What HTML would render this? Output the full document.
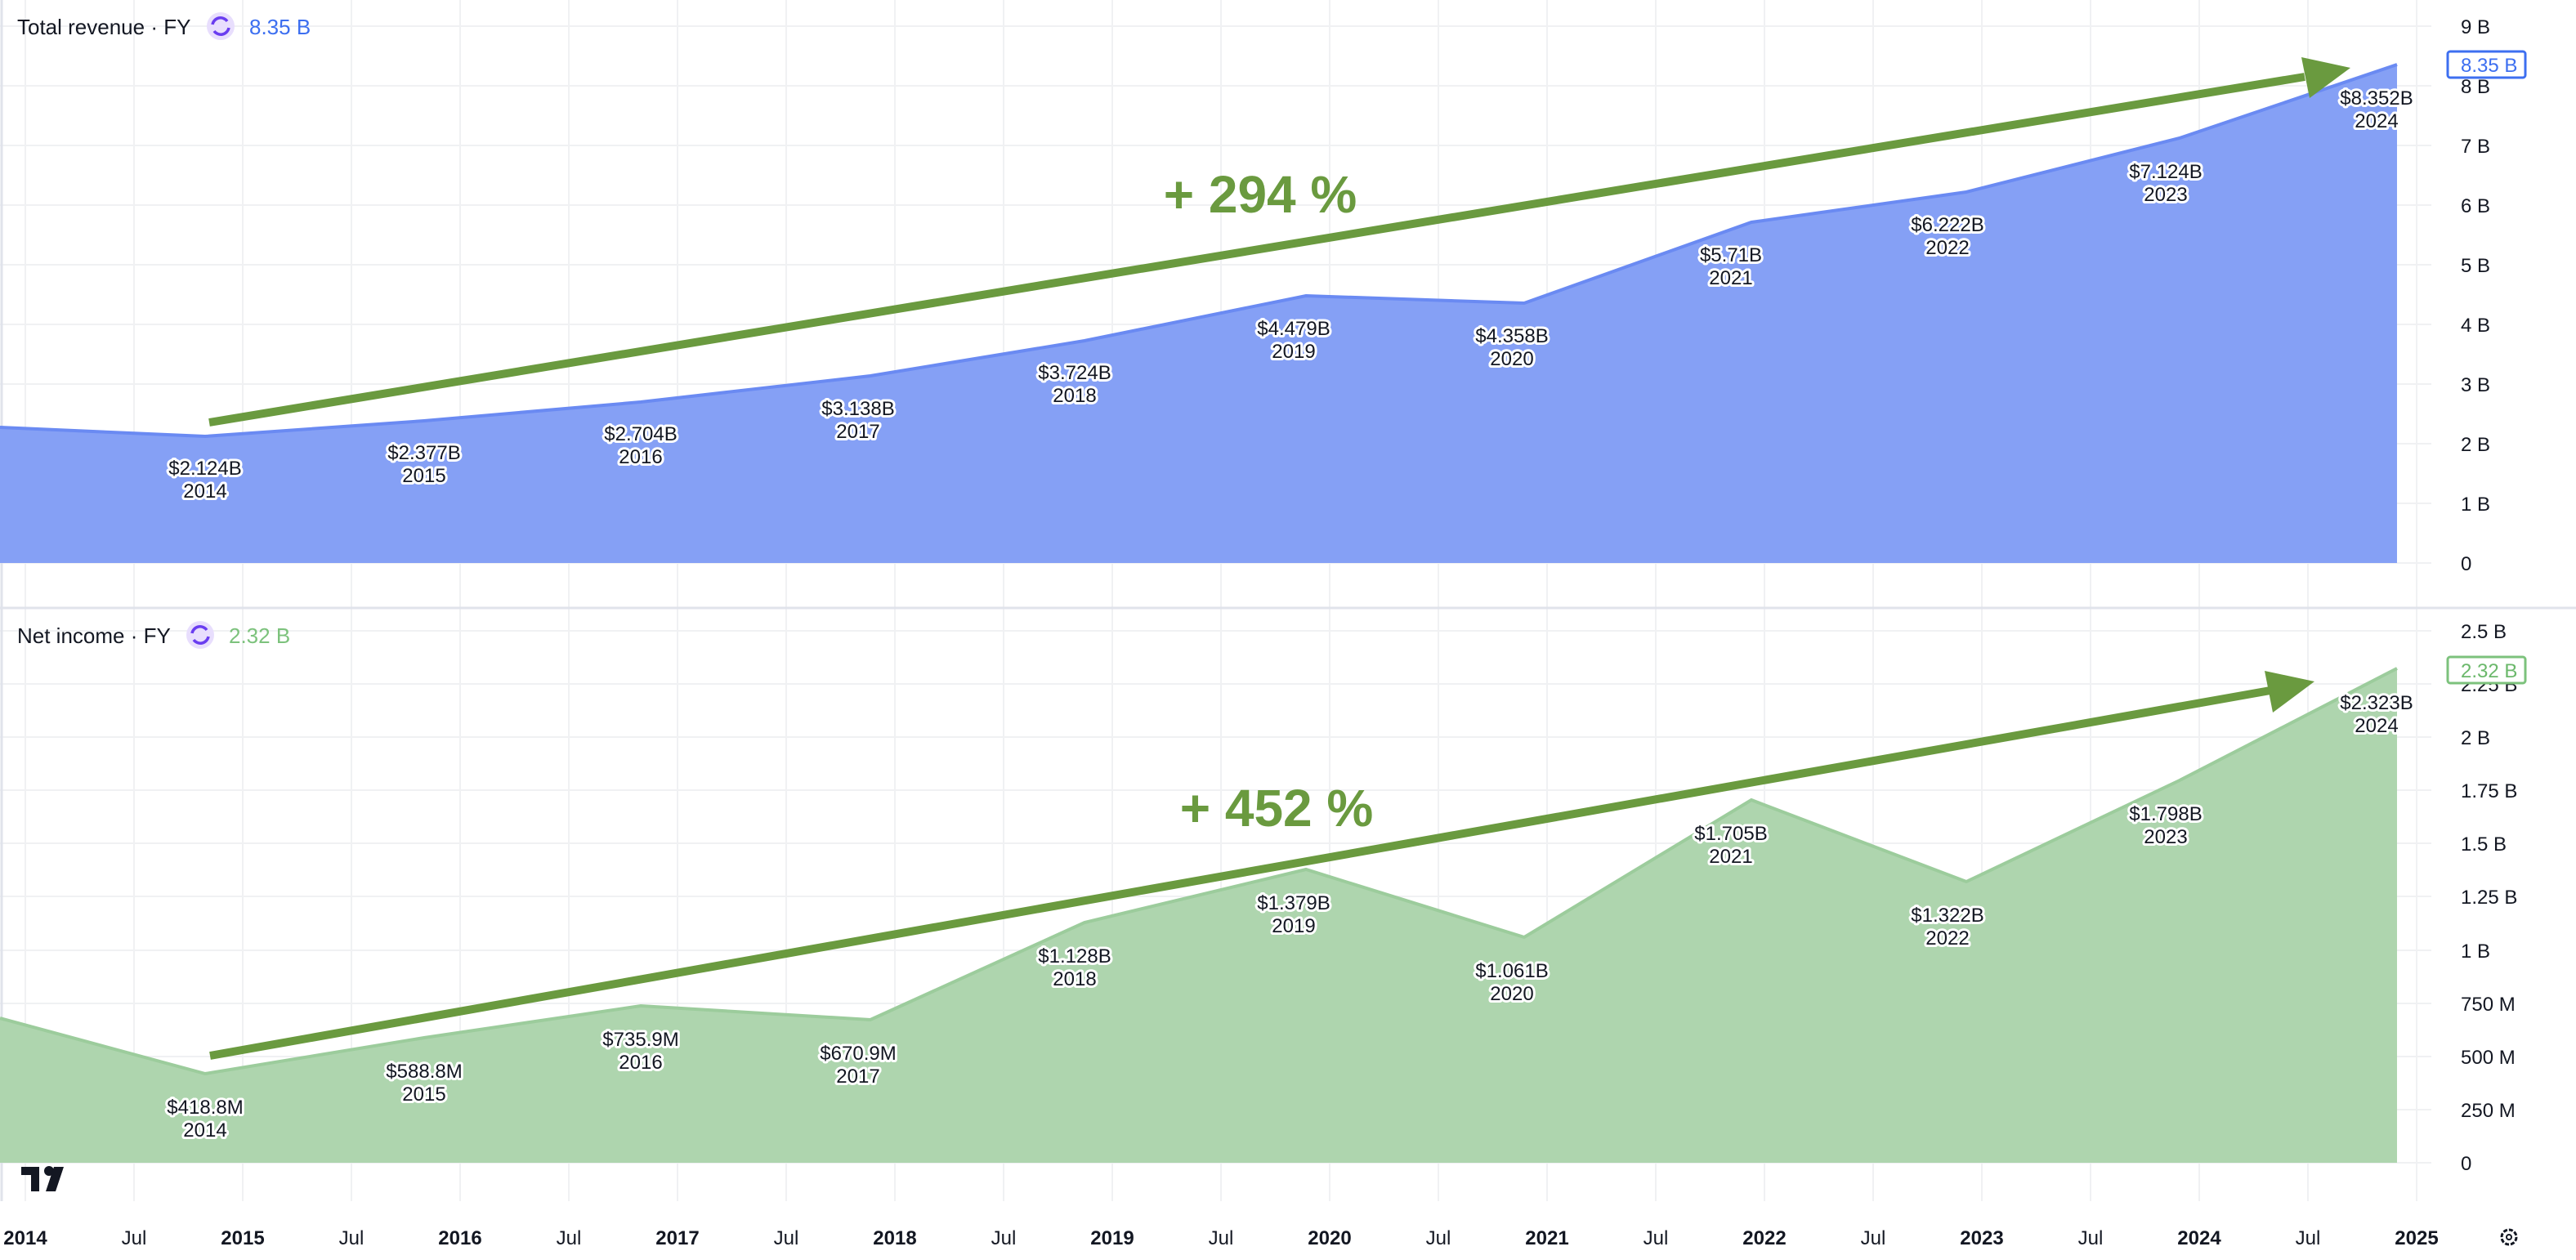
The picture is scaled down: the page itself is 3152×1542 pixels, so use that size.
<!DOCTYPE html>
<html><head><meta charset="utf-8"><style>
html,body{margin:0;padding:0;background:#fff;}
svg{display:block;font-family:"Liberation Sans",sans-serif;}
.lbl{font-size:24px;fill:#131722;stroke:#fff;stroke-width:6px;paint-order:stroke;stroke-linejoin:round;text-anchor:middle;}
.ax{font-size:24px;fill:#131722;}
.xb{font-size:24px;font-weight:bold;fill:#131722;text-anchor:middle;}
.xr{font-size:24px;fill:#131722;text-anchor:middle;}
</style></head><body>
<svg width="3152" height="1542" viewBox="0 0 3152 1542">
<g stroke="#f0f1f3" stroke-width="2">
<line x1="31" y1="0" x2="31" y2="1470"/><line x1="164" y1="0" x2="164" y2="1470"/><line x1="297" y1="0" x2="297" y2="1470"/><line x1="430" y1="0" x2="430" y2="1470"/><line x1="563" y1="0" x2="563" y2="1470"/><line x1="696" y1="0" x2="696" y2="1470"/><line x1="829" y1="0" x2="829" y2="1470"/><line x1="962" y1="0" x2="962" y2="1470"/><line x1="1095" y1="0" x2="1095" y2="1470"/><line x1="1228" y1="0" x2="1228" y2="1470"/><line x1="1361" y1="0" x2="1361" y2="1470"/><line x1="1494" y1="0" x2="1494" y2="1470"/><line x1="1627" y1="0" x2="1627" y2="1470"/><line x1="1760" y1="0" x2="1760" y2="1470"/><line x1="1893" y1="0" x2="1893" y2="1470"/><line x1="2026" y1="0" x2="2026" y2="1470"/><line x1="2159" y1="0" x2="2159" y2="1470"/><line x1="2292" y1="0" x2="2292" y2="1470"/><line x1="2425" y1="0" x2="2425" y2="1470"/><line x1="2558" y1="0" x2="2558" y2="1470"/><line x1="2691" y1="0" x2="2691" y2="1470"/><line x1="2824" y1="0" x2="2824" y2="1470"/><line x1="2957" y1="0" x2="2957" y2="1470"/>
<line x1="0" y1="32" x2="2975" y2="32"/><line x1="0" y1="105" x2="2975" y2="105"/><line x1="0" y1="178" x2="2975" y2="178"/><line x1="0" y1="251" x2="2975" y2="251"/><line x1="0" y1="324" x2="2975" y2="324"/><line x1="0" y1="397" x2="2975" y2="397"/><line x1="0" y1="470" x2="2975" y2="470"/><line x1="0" y1="543" x2="2975" y2="543"/><line x1="0" y1="616" x2="2975" y2="616"/><line x1="0" y1="689" x2="2975" y2="689"/>
<line x1="0" y1="772" x2="2975" y2="772"/><line x1="0" y1="837" x2="2975" y2="837"/><line x1="0" y1="902" x2="2975" y2="902"/><line x1="0" y1="967" x2="2975" y2="967"/><line x1="0" y1="1032" x2="2975" y2="1032"/><line x1="0" y1="1097" x2="2975" y2="1097"/><line x1="0" y1="1163" x2="2975" y2="1163"/><line x1="0" y1="1228" x2="2975" y2="1228"/><line x1="0" y1="1293" x2="2975" y2="1293"/><line x1="0" y1="1358" x2="2975" y2="1358"/><line x1="0" y1="1423" x2="2975" y2="1423"/>
</g>
<line x1="0" y1="744" x2="3152" y2="744" stroke="#e0e3eb" stroke-width="3"/>
<line x1="2" y1="0" x2="2" y2="1470" stroke="#e0e3eb" stroke-width="3"/>
<!-- revenue -->
<polygon fill="#85a0f5" points="0,689 0,523 251,534 519,515 784,492 1065,460 1327,417 1598,362 1865,371 2143,272 2406,235 2667,169 2933,79 2933,689"/>
<polyline fill="none" stroke="#6a8af2" stroke-width="4" points="0,523 251,534 519,515 784,492 1065,460 1327,417 1598,362 1865,371 2143,272 2406,235 2667,169 2933,79"/>
<!-- net income -->
<polygon fill="#aed5ae" points="0,1423 0,1246 251,1314 519,1270 784,1231 1065,1248 1327,1129 1598,1064 1865,1147 2143,979 2406,1079 2667,955 2933,818 2933,1423"/>
<polyline fill="none" stroke="#9ccc9c" stroke-width="4" points="0,1246 251,1314 519,1270 784,1231 1065,1248 1327,1129 1598,1064 1865,1147 2143,979 2406,1079 2667,955 2933,818"/>
<!-- labels revenue -->
<g class="lbl">
<text x="251" y="581">$2.124B</text><text x="251" y="609">2014</text>
<text x="519" y="562">$2.377B</text><text x="519" y="590">2015</text>
<text x="784" y="539">$2.704B</text><text x="784" y="567">2016</text>
<text x="1050" y="508">$3.138B</text><text x="1050" y="536">2017</text>
<text x="1315" y="464">$3.724B</text><text x="1315" y="492">2018</text>
<text x="1583" y="410">$4.479B</text><text x="1583" y="438">2019</text>
<text x="1850" y="419">$4.358B</text><text x="1850" y="447">2020</text>
<text x="2118" y="320">$5.71B</text><text x="2118" y="348">2021</text>
<text x="2383" y="283">$6.222B</text><text x="2383" y="311">2022</text>
<text x="2650" y="218">$7.124B</text><text x="2650" y="246">2023</text>
<text x="2908" y="128">$8.352B</text><text x="2908" y="156">2024</text>
<text x="251" y="1363">$418.8M</text><text x="251" y="1391">2014</text>
<text x="519" y="1319">$588.8M</text><text x="519" y="1347">2015</text>
<text x="784" y="1280">$735.9M</text><text x="784" y="1308">2016</text>
<text x="1050" y="1297">$670.9M</text><text x="1050" y="1325">2017</text>
<text x="1315" y="1178">$1.128B</text><text x="1315" y="1206">2018</text>
<text x="1583" y="1113">$1.379B</text><text x="1583" y="1141">2019</text>
<text x="1850" y="1196">$1.061B</text><text x="1850" y="1224">2020</text>
<text x="2118" y="1028">$1.705B</text><text x="2118" y="1056">2021</text>
<text x="2383" y="1128">$1.322B</text><text x="2383" y="1156">2022</text>
<text x="2650" y="1004">$1.798B</text><text x="2650" y="1032">2023</text>
<text x="2908" y="868">$2.323B</text><text x="2908" y="896">2024</text>
</g>
<!-- arrows -->
<g fill="#6a9a3f" stroke="#6a9a3f">
<line x1="256" y1="517" x2="2820" y2="94" stroke-width="10"/>
<polygon stroke="none" points="2876,83 2816,70 2826,120"/>
<line x1="257" y1="1292" x2="2778" y2="845" stroke-width="10"/>
<polygon stroke="none" points="2832,834 2771,821 2781,872"/>
</g>
<text x="1542" y="260" fill="#6a9a3f" font-size="64" font-weight="bold" text-anchor="middle">+ 294 %</text>
<text x="1562" y="1011" fill="#6a9a3f" font-size="64" font-weight="bold" text-anchor="middle">+ 452 %</text>
<!-- legends -->
<text x="21" y="42" font-size="26" fill="#131722">Total revenue · FY</text>
<circle cx="270" cy="32" r="17" fill="#e8defd"/>
<path d="M260 30 a10 10 0 0 1 18 -4 M280 34 a10 10 0 0 1 -18 4" fill="none" stroke="#6a3df0" stroke-width="3.5"/>
<text x="305" y="42" font-size="26" fill="#3d6ff0">8.35 B</text>
<text x="21" y="787" font-size="26" fill="#131722">Net income · FY</text>
<circle cx="245" cy="777" r="17" fill="#e8defd"/>
<path d="M235 775 a10 10 0 0 1 18 -4 M255 779 a10 10 0 0 1 -18 4" fill="none" stroke="#6a3df0" stroke-width="3.5"/>
<text x="280" y="787" font-size="26" fill="#7cc27c">2.32 B</text>
<!-- right axis -->
<g class="ax">
<text x="3011" y="41">9 B</text><text x="3011" y="114">8 B</text><text x="3011" y="187">7 B</text><text x="3011" y="260">6 B</text><text x="3011" y="333">5 B</text><text x="3011" y="406">4 B</text><text x="3011" y="479">3 B</text><text x="3011" y="552">2 B</text><text x="3011" y="625">1 B</text><text x="3011" y="698">0</text>
<text x="3011" y="781">2.5 B</text><text x="3011" y="846">2.25 B</text><text x="3011" y="911">2 B</text><text x="3011" y="976">1.75 B</text><text x="3011" y="1041">1.5 B</text><text x="3011" y="1106">1.25 B</text><text x="3011" y="1172">1 B</text><text x="3011" y="1237">750 M</text><text x="3011" y="1302">500 M</text><text x="3011" y="1367">250 M</text><text x="3011" y="1432">0</text>
</g>
<rect x="2995" y="63" width="95" height="32" rx="3" fill="#fff" stroke="#3d6ff0" stroke-width="3"/>
<text x="3011" y="88" font-size="24" fill="#3d6ff0">8.35 B</text>
<rect x="2995" y="804" width="95" height="32" rx="3" fill="#fff" stroke="#7cc27c" stroke-width="3"/>
<text x="3011" y="829" font-size="24" fill="#6bb86b">2.32 B</text>
<!-- x axis -->
<text class="xb" x="31" y="1523">2014</text><text class="xr" x="164" y="1523">Jul</text>
<text class="xb" x="297" y="1523">2015</text><text class="xr" x="430" y="1523">Jul</text>
<text class="xb" x="563" y="1523">2016</text><text class="xr" x="696" y="1523">Jul</text>
<text class="xb" x="829" y="1523">2017</text><text class="xr" x="962" y="1523">Jul</text>
<text class="xb" x="1095" y="1523">2018</text><text class="xr" x="1228" y="1523">Jul</text>
<text class="xb" x="1361" y="1523">2019</text><text class="xr" x="1494" y="1523">Jul</text>
<text class="xb" x="1627" y="1523">2020</text><text class="xr" x="1760" y="1523">Jul</text>
<text class="xb" x="1893" y="1523">2021</text><text class="xr" x="2026" y="1523">Jul</text>
<text class="xb" x="2159" y="1523">2022</text><text class="xr" x="2292" y="1523">Jul</text>
<text class="xb" x="2425" y="1523">2023</text><text class="xr" x="2558" y="1523">Jul</text>
<text class="xb" x="2691" y="1523">2024</text><text class="xr" x="2824" y="1523">Jul</text>
<text class="xb" x="2957" y="1523">2025</text>
<!-- gear -->
<circle cx="3070" cy="1514" r="9" fill="none" stroke="#131722" stroke-width="3" stroke-dasharray="5 2"/>
<circle cx="3070" cy="1514" r="3" fill="none" stroke="#131722" stroke-width="2"/>
<!-- TV logo -->
<g fill="#131722">
<rect x="26" y="1428" width="22" height="10"/><rect x="38" y="1428" width="10" height="30"/>
<circle cx="60" cy="1433" r="6"/><polygon points="66,1428 78,1428 68,1458 56,1458"/>
</g>
</svg>
</body></html>
